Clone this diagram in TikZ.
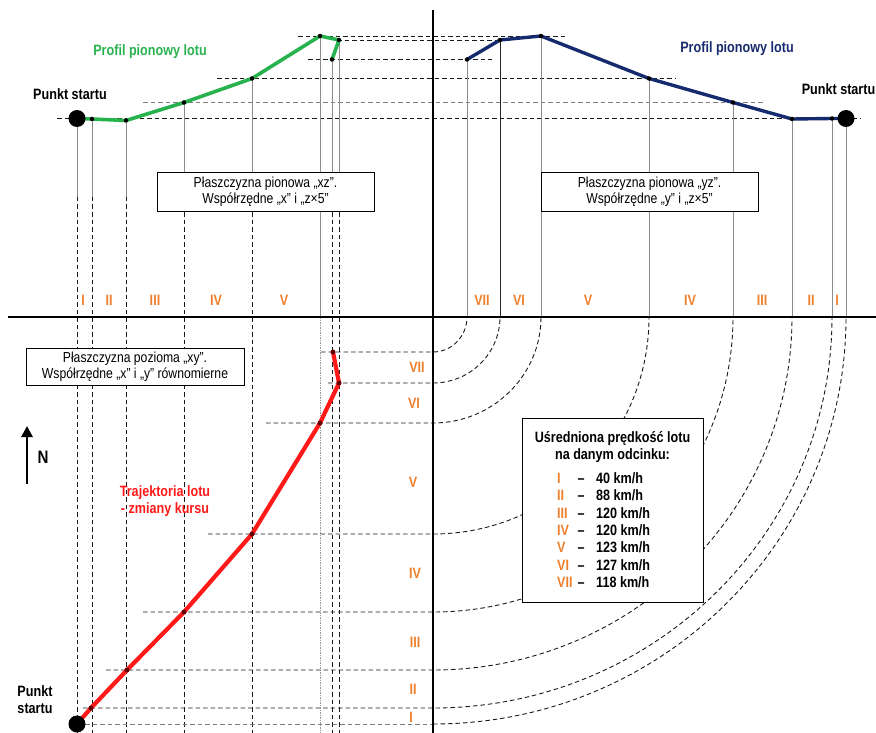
\documentclass[tikz,border=0pt]{standalone}
\usepackage{fontspec}
\setmainfont{Liberation Sans}[FakeStretch=0.84,BoldFeatures={FakeStretch=0.84}]
\usetikzlibrary{arrows.meta}
\definecolor{profgreen}{RGB}{40,178,78}
\definecolor{profnavy}{RGB}{22,42,110}
\definecolor{trajred}{RGB}{255,25,25}
\definecolor{segorange}{RGB}{238,128,45}
\definecolor{guidegray}{RGB}{140,140,140}
\begin{document}
\begin{tikzpicture}[x=1pt,y=-1pt,
  axisline/.style={black,line width=1.2pt},
  guide/.style={guidegray,line width=1pt},
  darkguide/.style={black!85,line width=1pt},
  dashguide/.style={black!90,line width=0.9pt,dash pattern=on 4.5pt off 3pt},
  lightdash/.style={black!50,line width=0.9pt,dash pattern=on 4.5pt off 3pt},
  profgreenline/.style={profgreen,line width=3.6pt,line join=round,line cap=round},
  profnavyline/.style={profnavy,line width=3.4pt,line join=round,line cap=round},
  trajline/.style={trajred,line width=4.2pt,line join=round,line cap=round},
  seglabel/.style={text=segorange,font=\fontsize{15}{15}\selectfont\bfseries,inner sep=0},
  lbl/.style={font=\fontsize{15}{17}\selectfont\bfseries,inner sep=0,align=center},
  planebox/.style={draw=black,line width=1pt,fill=white,font=\fontsize{14.5}{16}\selectfont,align=center,inner sep=0},
  startdot/.style={circle,fill=black,minimum size=17pt,inner sep=0},
  vtx/.style={circle,fill=black,minimum size=4.5pt,inner sep=0},
  tvtx/.style={circle,fill=black!60!red,minimum size=5pt,inner sep=0}
]
\useasboundingbox (0,0) rectangle (876,733);
% key coordinates
\coordinate (O) at (433,317);
\coordinate (L0) at (77,118.5);  \coordinate (L1) at (92,119);
\coordinate (L2) at (126,120.5); \coordinate (L3) at (184,102.5);
\coordinate (L4) at (252,78.5);  \coordinate (L5) at (320,36);
\coordinate (L6) at (339,40);    \coordinate (L7) at (332,59.5);
\coordinate (R0) at (846,118.5); \coordinate (R1) at (832,118.5);
\coordinate (R2) at (792,119);   \coordinate (R3) at (733,102.5);
\coordinate (R4) at (649,78.5);  \coordinate (R5) at (541,36);
\coordinate (R6) at (500,40);    \coordinate (R7) at (467,59.5);
\coordinate (T0) at (77,724);    \coordinate (T1) at (91,708);
\coordinate (T2) at (127,670);   \coordinate (T3) at (184,612);
\coordinate (T4) at (252,534);   \coordinate (T5) at (320,423);
\coordinate (T6) at (339,383);   \coordinate (T7) at (333,352);
\coordinate (topend) at (433,10);
\coordinate (leftend) at (8,317);
\coordinate (botend) at (433,733);
\coordinate (rightend) at (876,317);

% top horizontal dashed guides
\draw[dashguide] ([xshift=-22pt]L5) -- ([xshift=26pt]R5);
\draw[dashguide] ([xshift=-2pt]L6) -- (R6);
\draw[dashguide] ([xshift=-24pt]L7) -- ([xshift=25pt]R7);
\draw[dashguide] ([xshift=-35pt]L4) -- ([xshift=26pt]R4);
\draw[lightdash] ([xshift=-41pt]L3) -- ([xshift=30pt]R3);
\draw[dashguide] ([xshift=-20pt]L0) -- ([xshift=14pt]R0);

% left verticals
\foreach \p in {L0,L1,L2,L3,L4,L6,L7}{
  \draw[guide] (\p) -- (\p |- 0,197);
  \draw[dashguide] (\p |- 0,197) -- (\p |- 0,733);
}
\draw[guide] (L5) -- (L5 |- 0,317);
\draw[black!40,line width=0.9pt,dash pattern=on 1.5pt off 1pt] (L5 |- 0,317) -- (L5 |- 0,733);

% right verticals
\foreach \p in {R0,R1,R2,R3,R4,R5,R7}{
  \draw[guide] (\p) -- (\p |- O);
}
\draw[darkguide] (R6) -- (R6 |- O);

% lower horizontal dashed guides and arcs
\draw[dashguide] ([xshift=-12pt]T7) -- (T7 -| O) arc[start angle=90,end angle=0,x radius=34,y radius=35];
\draw[dashguide] ([xshift=-11pt]T6) -- (T6 -| O) arc[start angle=90,end angle=0,x radius=67,y radius=66];
\draw[dashguide] ([xshift=-54pt]T5) -- (T5 -| O) arc[start angle=90,end angle=0,x radius=108,y radius=106];
\draw[dashguide] ([xshift=-44pt]T4) -- (T4 -| O) arc[start angle=90,end angle=0,x radius=216,y radius=217];
\draw[dashguide] ([xshift=-41pt]T3) -- (T3 -| O) arc[start angle=90,end angle=0,x radius=300,y radius=295];
\draw[dashguide] ([xshift=-21pt]T2) -- (T2 -| O) arc[start angle=90,end angle=0,x radius=359,y radius=353];
\draw[dashguide] ([xshift=-8pt]T1) -- (T1 -| O) arc[start angle=90,end angle=0,x radius=399,y radius=391];
\draw[lightdash] ([xshift=8pt]T0) -- (T0 -| O);
\draw[dashguide] (T0 -| O) arc[start angle=90,end angle=0,x radius=413,y radius=407];

% axes
\draw[axisline] (topend) -- (botend);
\draw[axisline] (leftend) -- (rightend);

% boxes
\node[planebox,minimum width=217pt,minimum height=38pt] (boxxz) at (265.5,192)
  {Płaszczyzna pionowa „xz”.\\Współrzędne „x” i „z×5”};
\node[planebox,minimum width=217pt,minimum height=38pt] (boxyz) at (649.5,192)
  {Płaszczyzna pionowa „yz”.\\Współrzędne „y” i „z×5”};
\node[planebox,minimum width=218pt,minimum height=37pt] (boxxy) at (135,366.5)
  {Płaszczyzna pozioma „xy”.\\Współrzędne „x” i „y” równomierne};
\node[draw=black,line width=1pt,fill=white,minimum width=181pt,minimum height=184pt,inner sep=0] (legend) at (612.5,510) {};
\node[lbl] (legtitle) at (612.5,447) {Uśredniona prędkość lotu\\na danym odcinku:};
\foreach \r/\v [count=\i from 0] in {I/40,II/88,III/120,IV/120,V/123,VI/127,VII/118}{
  \node[seglabel,anchor=base west] (legr\i) at (557,483.5+17.3*\i) {\r};
  \node[lbl,anchor=base] (legd\i) at (581,483.5+17.3*\i) {–};
  \node[lbl,anchor=base west] (legv\i) at (596,483.5+17.3*\i) {\v{} km/h};
}

% profiles and trajectory
\draw[profgreenline] (L0) -- (L1) -- (L2) -- (L3) -- (L4) -- (L5) -- (L6) -- (L7);
\draw[profnavyline] (R0) -- (R1) -- (R2) -- (R3) -- (R4) -- (R5) -- (R6) -- (R7);
\draw[trajline] (T0) -- (T1) -- (T2) -- (T3) -- (T4) -- (T5) -- (T6) -- (T7);
\foreach \p in {L1,L2,L3,L4,L5,L6,L7,R1,R2,R3,R4,R5,R6,R7}{\node[vtx] at (\p) {};}
\foreach \p in {T1,T2,T3,T4,T5,T6,T7}{\node[tvtx] at (\p) {};}
\node[startdot] (s1) at (L0) {};
\node[startdot] (s2) at (R0) {};
\node[startdot] (s3) at (T0) {};

% north arrow
\coordinate (nfoot) at (27,484);
\coordinate (ntip) at (27,426);
\draw[black,line width=2.8pt,-{Triangle[length=11pt,width=11pt]}] (nfoot) -- (ntip);
\node[lbl,font=\fontsize{18}{18}\selectfont\bfseries] (north) at (43,457) {N};

% labels
\node[lbl,text=profgreen] (plabL) at (150,52) {Profil pionowy lotu};
\node[lbl,text=profnavy] (plabR) at (737,49) {Profil pionowy lotu};
\node[lbl] (startL) at (70,94) {Punkt startu};
\node[lbl,anchor=east] (startR) at (875.5,89) {Punkt startu};
\node[lbl] (startB) at (35,700) {Punkt\\startu};
\node[lbl,text=trajred] (trajlab) at (165,501) {Trajektoria lotu\\- zmiany kursu};

% segment labels on the upper axis
\foreach \t/\x in {I/83,II/109,III/155,IV/216,V/284,VII/482,VI/519,V/588,IV/690,III/762,II/811,I/837}{
  \node[seglabel] at (\x,300) {\t};
}
% segment labels beside the vertical axis
\foreach \t/\x/\y in {VII/417/367,VI/414/403,V/413/482,IV/415/573,III/415/642,II/413/689,I/411/717}{
  \node[seglabel] at (\x,\y) {\t};
}
\end{tikzpicture}
\end{document}
